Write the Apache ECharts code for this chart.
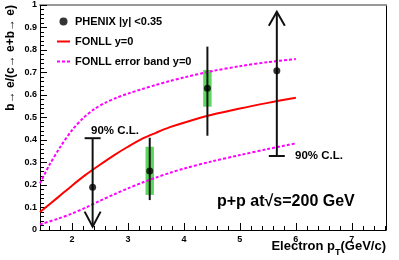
<!DOCTYPE html>
<html><head><meta charset="utf-8">
<script src="https://cdn.jsdelivr.net/npm/echarts@6/dist/echarts.min.js"></script>
<style>html,body{margin:0;padding:0;background:#fff}#c{width:399px;height:260px}</style>
</head><body><div id="c"></div>
<script>
// ---- data ----
const ptX = [2.37, 3.39, 4.42, 5.66];
const ptY = [0.19, 0.262, 0.63, 0.708];
const errLo = [0.015, 0.133, 0.419, 0.329];
const errHi = [0.408, 0.41, 0.815, 0.97];
const limitType = [1, 0, 0, 2]; // 1 = upper limit (arrow down), 2 = lower limit (arrow up)
const sysX = [3.39, 4.42];
const sysLo = [0.156, 0.548];
const sysHi = [0.37, 0.711];
const fonllX = [1.43, 1.75, 2.0, 2.25, 2.5, 2.75, 3.0, 3.25, 3.5, 3.75, 4.0, 4.5, 5.0, 5.5, 6.0];
const fonllY = [0.08, 0.145, 0.197, 0.246, 0.29, 0.332, 0.37, 0.405, 0.432, 0.457, 0.477, 0.512, 0.54, 0.565, 0.588];
const upX = [1.43, 1.6, 1.8, 2.0, 2.2, 2.4, 2.6, 2.8, 3.0, 3.25, 3.5, 3.75, 4.0, 4.5, 5.0, 5.5, 6.0];
const upY = [0.207, 0.29, 0.372, 0.443, 0.497, 0.537, 0.566, 0.588, 0.606, 0.626, 0.645, 0.662, 0.678, 0.706, 0.728, 0.746, 0.76];
const loX = [1.43, 1.75, 2.0, 2.25, 2.5, 2.75, 3.0, 3.25, 3.5, 3.75, 4.0, 4.5, 5.0, 5.5, 6.0];
const loY = [0.025, 0.05, 0.073, 0.1, 0.13, 0.158, 0.185, 0.21, 0.233, 0.254, 0.273, 0.305, 0.333, 0.36, 0.385];
const xMajor = [2, 3, 4, 5, 6, 7];
const xMinor = [1.6, 1.8, 2.2, 2.4, 2.6, 2.8, 3.2, 3.4, 3.6, 3.8, 4.2, 4.4, 4.6, 4.8, 5.2, 5.4, 5.6, 5.8, 6.2, 6.4, 6.6, 6.8, 7.2, 7.4, 7.6];
const legendNames = ['PHENIX |y| <0.35', 'FONLL y=0', 'FONLL error band y=0'];

const FONT = '"Liberation Sans", Arial, Helvetica, "DejaVu Sans", sans-serif';
const zip = (a, b) => a.map((v, i) => [v, b[i]]);

const chart = echarts.init(document.getElementById('c'), null, {renderer: 'canvas'});
const xBase = {type: 'value', min: 1.43, max: 7.61, splitLine: {show: false}};
chart.setOption({
  animation: false,
  grid: {left: 40, right: 13, top: 5, bottom: 30},
  legend: {
    left: 51, top: 11, orient: 'vertical', itemWidth: 13, itemHeight: 8, itemGap: 9,
    data: [
      {name: legendNames[0]},
      {name: legendNames[1], itemStyle: {opacity: 0}},
      {name: legendNames[2], itemStyle: {opacity: 0}}
    ],
    textStyle: {fontFamily: FONT, fontWeight: 'bold', fontSize: 11, color: '#000'}
  },
  xAxis: [
    Object.assign({}, xBase, {
      position: 'bottom',
      axisLine: {show: true, lineStyle: {color: '#000', width: 1}},
      axisTick: {show: true, inside: true, length: 7, customValues: xMajor, lineStyle: {color: '#000'}},
      axisLabel: {show: true, customValues: xMajor, margin: 5, fontFamily: FONT, fontWeight: 'bold', fontSize: 9, color: '#000'}
    }),
    Object.assign({}, xBase, {
      position: 'bottom',
      axisLine: {show: false},
      axisTick: {show: true, inside: true, length: 4, customValues: xMinor, lineStyle: {color: '#000'}},
      axisLabel: {show: false}
    }),
    Object.assign({}, xBase, {
      position: 'top',
      axisLine: {show: true, onZero: false, lineStyle: {color: '#999', width: 2}},
      axisTick: {show: false}, axisLabel: {show: false}
    })
  ],
  yAxis: [
    {
      type: 'value', min: 0, max: 1, interval: 0.1, position: 'left',
      splitLine: {show: false},
      axisLine: {show: true, lineStyle: {color: '#000', width: 1}},
      axisTick: {show: true, inside: true, length: 7, lineStyle: {color: '#000'}},
      minorTick: {show: true, splitNumber: 5, length: 4, lineStyle: {color: '#000'}},
      axisLabel: {margin: 3, fontFamily: FONT, fontWeight: 'bold', fontSize: 9, color: '#000',
        formatter: v => String(+v.toFixed(1))}
    },
    {
      type: 'value', min: 0, max: 1, position: 'right',
      splitLine: {show: false},
      axisLine: {show: true, lineStyle: {color: '#000', width: 1}},
      axisTick: {show: false}, axisLabel: {show: false}
    }
  ],
  series: [
    {
      name: 'sys', type: 'custom', xAxisIndex: 0, yAxisIndex: 0, z: 2,
      encode: {x: 0, y: [1, 2]},
      data: sysX.map((x, i) => [x, sysLo[i], sysHi[i]]),
      renderItem: (params, api) => {
        const a = api.coord([api.value(0), api.value(2)]);
        const b = api.coord([api.value(0), api.value(1)]);
        return {type: 'rect', shape: {x: a[0] - 4.2, y: a[1], width: 8.4, height: b[1] - a[1]},
          style: {fill: '#5cd65c'}};
      }
    },
    {
      name: 'FONLL error band y=0', type: 'line', smooth: 0.3, symbol: 'none', z: 3,
      data: zip(upX, upY),
      lineStyle: {color: '#ff00ff', width: 2, type: [3, 2]}, itemStyle: {color: '#ff00ff'}
    },
    {
      name: 'FONLL error band y=0', type: 'line', smooth: 0.3, symbol: 'none', z: 3,
      data: zip(loX, loY),
      lineStyle: {color: '#ff00ff', width: 2, type: [3, 2]}, itemStyle: {color: '#ff00ff'}
    },
    {
      name: 'FONLL y=0', type: 'line', smooth: 0.3, symbol: 'none', z: 3,
      data: zip(fonllX, fonllY),
      lineStyle: {color: '#ff0000', width: 2}, itemStyle: {color: '#ff0000'}
    },
    {
      name: 'err', type: 'custom', z: 4,
      encode: {x: 0, y: [1, 2]},
      data: ptX.map((x, i) => [x, errLo[i], errHi[i], limitType[i]]),
      renderItem: (params, api) => {
        const x = api.value(0), t = api.value(3);
        const lo = api.coord([x, api.value(1)]);
        const hi = api.coord([x, api.value(2)]);
        const st = {stroke: '#111', lineWidth: 2, fill: null};
        const ch = [{type: 'line', shape: {x1: lo[0], y1: lo[1], x2: hi[0], y2: hi[1]}, style: st}];
        if (t === 1) {
          ch.push({type: 'line', shape: {x1: hi[0] - 8, y1: hi[1], x2: hi[0] + 8, y2: hi[1]}, style: st});
          ch.push({type: 'polyline', shape: {points: [[lo[0] - 8, lo[1] - 15], [lo[0], lo[1]], [lo[0] + 8, lo[1] - 15]]}, style: st});
        } else if (t === 2) {
          ch.push({type: 'line', shape: {x1: lo[0] - 8, y1: lo[1], x2: lo[0] + 8, y2: lo[1]}, style: st});
          ch.push({type: 'polyline', shape: {points: [[hi[0] - 8, hi[1] + 14], [hi[0], hi[1]], [hi[0] + 8, hi[1] + 14]]}, style: st});
        }
        return {type: 'group', children: ch};
      }
    },
    {
      name: 'PHENIX |y| <0.35', type: 'scatter', z: 5, symbol: 'circle', symbolSize: 7,
      data: zip(ptX, ptY), itemStyle: {color: '#000'}
    }
  ],
  graphic: [
    {type: 'text', x: 11, y: 5, rotation: Math.PI / 2,
      style: {text: 'b\u2192 e/(c\u2192 e+b\u2192 e)', align: 'right', verticalAlign: 'middle',
        font: 'bold 12px ' + FONT, fill: '#000'}},
    {type: 'text', x: 386, y: 240,
      style: {text: '{a|Electron p}{s|T}{a|(GeV/c)}', align: 'right', verticalAlign: 'top',
        rich: {a: {font: 'bold 13px ' + FONT, fill: '#000', verticalAlign: 'top', lineHeight: 17},
               s: {font: 'bold 9px ' + FONT, fill: '#000', verticalAlign: 'bottom', lineHeight: 17}}}},
    {type: 'text', x: 91, y: 131,
      style: {text: '90% C.L.', align: 'left', verticalAlign: 'middle', font: 'bold 11.5px ' + FONT, fill: '#000'}},
    {type: 'text', x: 295, y: 156,
      style: {text: '90% C.L.', align: 'left', verticalAlign: 'middle', font: 'bold 11.5px ' + FONT, fill: '#000'}},
    {type: 'text', x: 217, y: 202,
      style: {text: 'p+p at\u221As=200 GeV', align: 'left', verticalAlign: 'middle', font: 'bold 16px ' + FONT, fill: '#000'}}
  ]
});
</script></body></html>
